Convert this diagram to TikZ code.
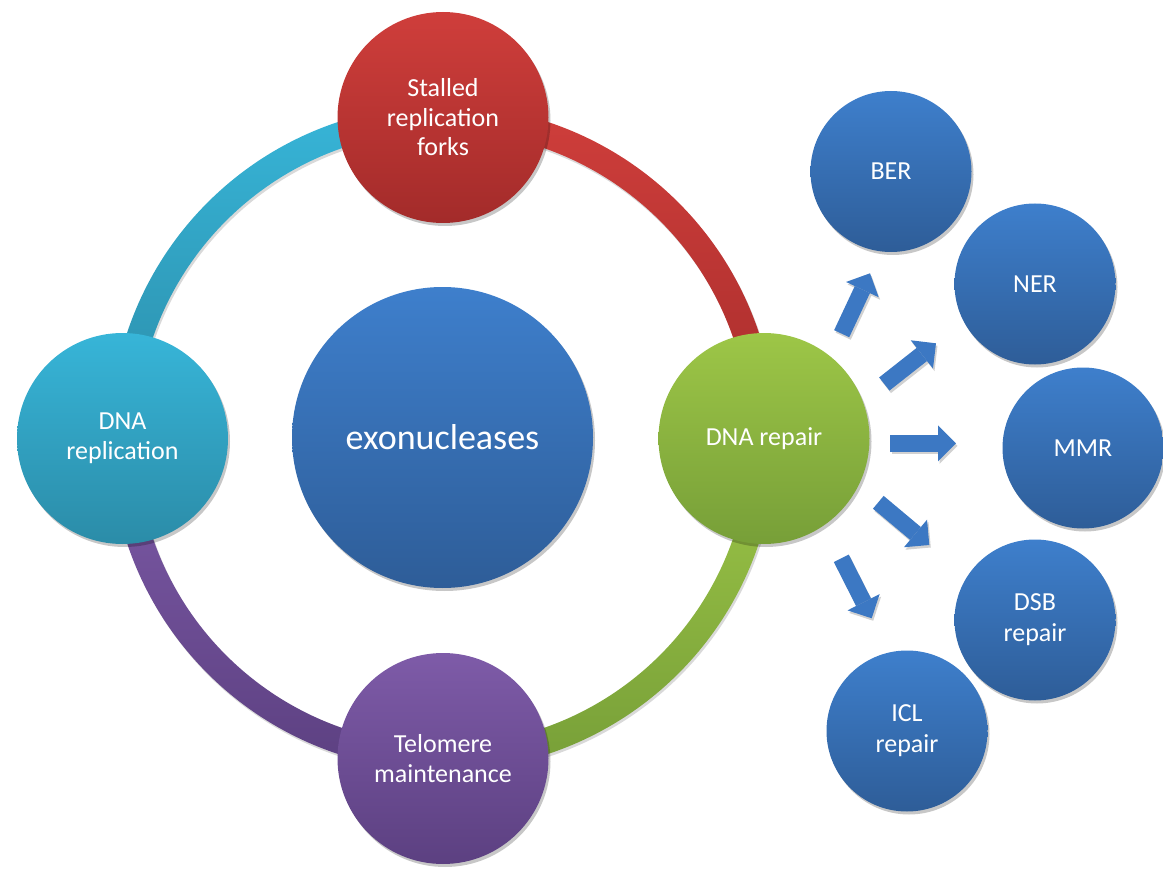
\documentclass[tikz,border=0pt]{standalone}
\usepackage{fontspec}
\setmainfont{Carlito}
\usetikzlibrary{shadows,arrows.meta}
\definecolor{redT}{HTML}{CF3E3B}
\definecolor{redB}{HTML}{A32B2A}
\definecolor{cyanT}{HTML}{37B5D8}
\definecolor{cyanB}{HTML}{2B8CA8}
\definecolor{greenT}{HTML}{9DC647}
\definecolor{greenB}{HTML}{779F38}
\definecolor{purpT}{HTML}{7E5BA8}
\definecolor{purpB}{HTML}{5C4081}
\definecolor{blueT}{HTML}{3E7FCC}
\definecolor{blueB}{HTML}{2E5D98}
\definecolor{arrblue}{HTML}{3C78C3}
\begin{document}
\begin{tikzpicture}[x=1pt,y=-1pt,
  shadowed/.style={drop shadow={shadow xshift=2pt,shadow yshift=-3pt,opacity=0.22,fill=black}},
  ringshadow/.style={drop shadow={shadow xshift=1.5pt,shadow yshift=-2.5pt,opacity=0.15,fill=black}},
  sat/.style={circle,minimum size=211pt,inner sep=0pt,align=center,text=white,
    font=\fontsize{26}{29.5}\selectfont,shadowed},
  core/.style={circle,minimum size=301pt,inner sep=0pt,align=center,text=white,
    font=\fontsize{36}{40}\selectfont,top color=blueT,bottom color=blueB,shadowed},
  small/.style={circle,minimum size=161pt,inner sep=0pt,align=center,text=white,
    font=\fontsize{26}{31}\selectfont,top color=blueT,bottom color=blueB,shadowed},
  barrow/.style={draw=arrblue,line width=16.7pt,
    -{Triangle[width=36pt,length=18pt,line width=0pt,fill=arrblue]}},
  barrowsh/.style={draw=black,opacity=0.18,line width=16.7pt,
    -{Triangle[width=36pt,length=18pt,line width=0pt,fill=black]}}
]
\useasboundingbox (0,0) rectangle (1163,872);

% ring segments (angles: 90 = down on the page)
\path[top color=redT,bottom color=redB!90!redT,ringshadow]
  plot[domain=-90:0,samples=80] ({443+333*cos(\x)},{438+333*sin(\x)})
  -- plot[domain=0:-90,samples=80] ({443+307*cos(\x)},{438+307*sin(\x)}) -- cycle;
\path[top color=greenT,bottom color=greenB,ringshadow]
  plot[domain=0:90,samples=80] ({443+333*cos(\x)},{438+333*sin(\x)})
  -- plot[domain=90:0,samples=80] ({443+307*cos(\x)},{438+307*sin(\x)}) -- cycle;
\path[top color=purpT,bottom color=purpB,ringshadow]
  plot[domain=90:180,samples=80] ({443+333*cos(\x)},{438+333*sin(\x)})
  -- plot[domain=180:90,samples=80] ({443+307*cos(\x)},{438+307*sin(\x)}) -- cycle;
\path[top color=cyanT,bottom color=cyanB,ringshadow]
  plot[domain=180:270,samples=80] ({443+333*cos(\x)},{438+333*sin(\x)})
  -- plot[domain=270:180,samples=80] ({443+307*cos(\x)},{438+307*sin(\x)}) -- cycle;

% central and satellite circles
\node[core] (exo) at (442.5,437.5) {exonucleases};
\node[sat,top color=redT,bottom color=redB] (stall) at (443,117.5) {Stalled\\replication\\forks};
\node[sat,top color=cyanT,bottom color=cyanB] (repl) at (122.5,438.5) {DNA\\replication};
\node[sat,top color=greenT,bottom color=greenB] (repair) at (764,438.5) {DNA repair};
\node[sat,top color=purpT,bottom color=purpB] (telo) at (443,758.5) {Telomere\\maintenance};

% repair pathways
\node[small] (ber) at (891,171.5) {BER};
\node[small] (ner) at (1035,284) {NER};
\node[small] (mmr) at (1083,448) {MMR};
\node[small] (dsb) at (1035,620) {DSB\\repair};
\node[small] (icl) at (907,731) {ICL\\repair};

% block arrows
\coordinate (a1s) at (841.7,333.7); \coordinate (a1e) at (870,273.3);
\coordinate (a2s) at (884.3,384);   \coordinate (a2e) at (936,343.3);
\coordinate (a3s) at (890,443.3);   \coordinate (a3e) at (956,443.3);
\coordinate (a4s) at (878.3,502.3); \coordinate (a4e) at (929.3,545);
\coordinate (a5s) at (841.3,558.3); \coordinate (a5e) at (871.7,618.3);
\begin{scope}[transform canvas={shift={(1.5pt,-2.5pt)}}]
\foreach \i in {1,...,5} \draw[barrowsh] (a\i s) -- (a\i e);
\end{scope}
\foreach \i in {1,...,5} \draw[barrow] (a\i s) -- (a\i e);
\end{tikzpicture}
\end{document}
